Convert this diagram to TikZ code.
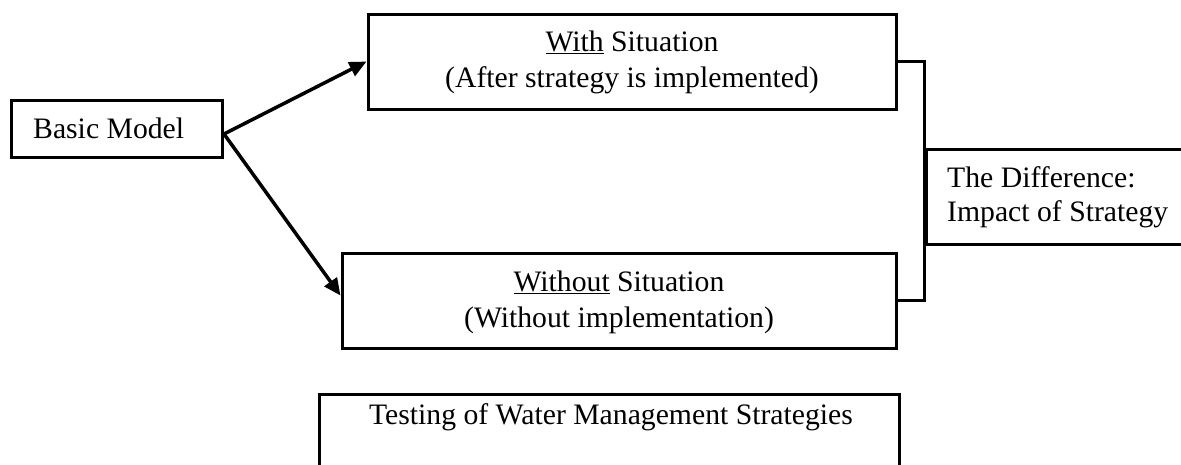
\documentclass[tikz,border=0pt]{standalone}
\usepackage{fontspec}
\setmainfont{Liberation Serif}
\usetikzlibrary{arrows.meta}
\begin{document}
\begin{tikzpicture}[x=1pt,y=-1pt,
  box/.style={draw=black,line width=3pt,rectangle,inner sep=0pt},
  lbl/.style={inner sep=0pt,anchor=base,font=\fontsize{29.7}{35}\selectfont},
  conn/.style={line width=3.5pt,-{Triangle[length=17pt,width=15pt]}},
  brk/.style={line width=3pt}]
\useasboundingbox (0,0) rectangle (1181,464);
\clip (0,0) rectangle (1181,464);
\fill[white] (0,0) rectangle (1181,464);
% boxes
\node[box,minimum width=211pt,minimum height=57pt] (basic) at (116.5,128.5) {};
\node[box,minimum width=528pt,minimum height=95pt] (with) at (632,61.5) {};
\node[box,minimum width=554pt,minimum height=95pt] (without) at (619,300.5) {};
\node[box,minimum width=324pt,minimum height=95pt] (diff) at (1088,196.5) {};
\node[box,minimum width=580pt,minimum height=110pt] (test) at (609,449) {};
% texts
\node[lbl,anchor=base west] (tbasic) at (33,138) {Basic Model};
\node[lbl] (twith1) at (632,51) {\underline{With} Situation};
\node[lbl] (twith2) at (632,87) {(After strategy is implemented)};
\node[lbl] (two1) at (619,291) {\underline{Without} Situation};
\node[lbl] (two2) at (619,327) {(Without implementation)};
\node[lbl,anchor=base west] (tdiff1) at (947,187) {The Difference:};
\node[lbl,anchor=base west] (tdiff2) at (947,221) {Impact of Strategy};
\node[lbl] (ttest) at (611,424) {Testing of Water Management Strategies};
% connectors
\coordinate (fork) at (224,134);
\draw[conn] (fork) -- (with.west);
\draw[conn] (fork) -- ([yshift=5pt]without.west);
\draw[brk] (with.east) -| (diff.west |- without.east) -- (without.east);
\end{tikzpicture}
\end{document}
